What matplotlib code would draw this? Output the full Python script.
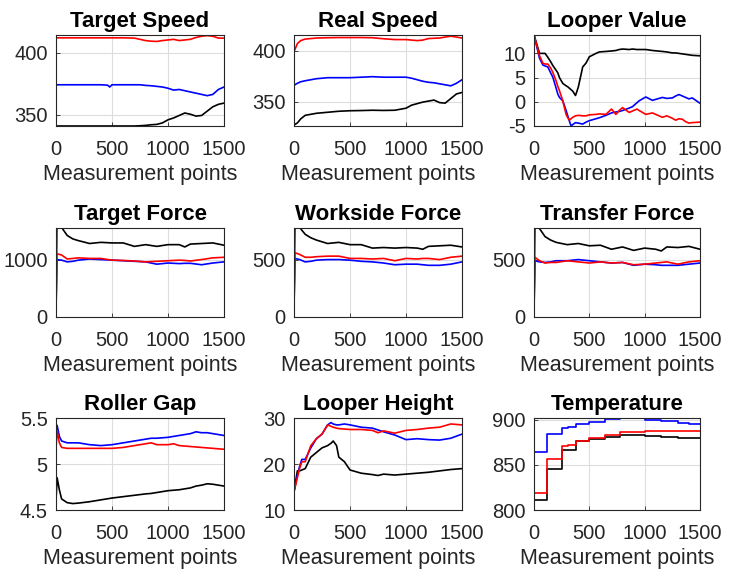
import matplotlib
matplotlib.use('Agg')
import matplotlib.pyplot as plt
from matplotlib.ticker import FormatStrFormatter

plt.rcParams['font.family'] = ['Liberation Sans', 'DejaVu Sans']

# ---- Target Speed
ts_x = [0, 100, 200, 300, 400, 460, 480, 500, 600, 700, 750, 800, 850, 900, 950,
        1000, 1050, 1100, 1150, 1200, 1250, 1300, 1350, 1400, 1450, 1500]
ts_red = [412.2, 412.2, 412.2, 412.2, 412.2, 412.2, 412.2, 412.2, 412.2, 412.0, 411.0, 410.0, 409.5,
          409.3, 410.0, 410.5, 411.0, 410.0, 410.5, 411.0, 412.5, 413.5, 414.0, 413.5, 412.0, 412.0]
ts_blue = [374.3, 374.3, 374.3, 374.3, 374.3, 374.0, 372.5, 374.3, 374.3, 374.3, 374.3, 373.8, 373.5,
           373.0, 372.5, 371.5, 370.0, 370.5, 369.5, 368.5, 367.5, 366.5, 365.5, 366.5, 370.5, 372.5]
ts_black = [341.0, 341.0, 341.0, 341.0, 341.0, 341.0, 341.0, 341.0, 341.0, 341.0, 341.2, 341.5, 342.0,
            342.3, 343.5, 346.0, 347.5, 349.5, 351.5, 350.5, 349.0, 349.5, 353.0, 356.5, 358.5, 359.5]

# ---- Real Speed
rs_x = [0, 15, 30, 60, 100, 200, 300, 400, 500, 600, 700, 800, 900, 1000, 1050, 1100,
        1150, 1200, 1250, 1300, 1350, 1400, 1450, 1500]
rs_red = [399, 403, 407, 410, 411.5, 412.5, 412.8, 413, 413, 413, 412.8, 411.8, 411, 411, 410.5, 410,
          410.5, 412, 412.3, 412.5, 413.5, 414.3, 413.5, 412.5]
rs_blue = [366, 367, 368, 369.5, 370.5, 372.5, 373.5, 373.5, 373.5, 374, 374.5, 374, 374, 374, 373, 371.5,
           370, 369, 368.5, 367.5, 366.5, 365.5, 368, 371.5]
rs_black = [327, 328, 329, 333, 336.5, 338.5, 339.5, 340.5, 341, 341.2, 341.5, 341.3, 341.5, 343.5, 346.5, 348,
            349.5, 350.5, 351.5, 349, 348.5, 353, 357.5, 359]

# ---- Looper Value
lv_x = [0, 50, 80, 100, 125, 150, 170, 200, 215, 230, 260, 290, 305, 320, 335, 350, 375, 400, 440, 470,
        500, 560, 590, 650, 700, 740, 770, 800, 860, 890, 930, 950, 1010, 1070, 1160, 1200, 1250, 1280,
        1310, 1340, 1370, 1400, 1430, 1500]
lv_red = [13.8, 9.5, 8, 7.8, 7.8, 7, 6.1, 4.3, 3.2, 2.3, 0.2, -2.6, -3.3, -3.8, -3.5, -3.2, -2.9, -2.8,
          -2.9, -2.9, -2.7, -2.6, -2.5, -2.6, -1.5, -2.6, -1.8, -1.2, -2.2, -1.9, -1.5, -1.8, -2.6, -2.3,
          -3.2, -2.9, -3.4, -3.8, -3.5, -3.6, -4.1, -4.4, -4.3, -4.2]
lv_blue = [13.8, 9, 7.6, 7.4, 7.2, 6, 5.1, 2.8, 1.6, 0.9, 0.2, -1.8, -2.9, -4, -5, -4.7, -4.3, -4.4,
           -4.6, -4.2, -3.9, -3.5, -3.3, -2.8, -2.3, -2.1, -2, -1.8, -1.3, -1, -0.2, 0.2, 1, 0.3, 0.9,
           0.7, 0.8, 1.2, 1.5, 1.2, 0.9, 0.6, 0.8, -0.3]
lv_black = [13.8, 10, 10, 10, 9.2, 8.3, 7.5, 6.5, 6, 5, 3.8, 3.3, 3.1, 2.8, 2.5, 2.2, 1.3, 3, 7.2, 8,
            9.3, 10, 10.3, 10.4, 10.5, 10.6, 10.8, 10.9, 10.8, 10.9, 10.8, 10.8, 10.8, 10.6, 10.4, 10.3,
            10.1, 10.1, 10, 9.9, 9.8, 9.7, 9.6, 9.5]

# ---- forces (same sampling)
f_x = [0, 8, 50, 100, 150, 200, 300, 400, 500, 600, 700, 800, 900, 1000, 1100, 1150, 1200, 1300, 1400, 1500]
tf_red = [100, 1100, 1080, 1010, 1020, 1030, 1020, 1020, 990, 985, 975, 960, 970, 980, 990, 985, 975,
          1000, 1030, 1040]
tf_blue = [100, 1000, 990, 960, 970, 990, 1010, 1000, 990, 980, 970, 960, 920, 940, 930, 935, 935,
           910, 940, 960]
tf_black = [100, 1600, 1560, 1420, 1360, 1330, 1280, 1300, 1290, 1290, 1230, 1260, 1230, 1260, 1260,
            1220, 1270, 1280, 1290, 1250]

wf_red = [80, 560, 545, 520, 520, 525, 530, 530, 510, 510, 505, 510, 490, 510, 505, 510, 510, 500, 520, 530]
wf_blue = [75, 510, 500, 480, 485, 495, 500, 500, 495, 485, 480, 470, 455, 460, 460, 455, 450, 450, 460, 480]
wf_black = [80, 790, 780, 720, 690, 670, 640, 650, 630, 630, 600, 605, 600, 605, 600, 590, 615, 620, 625, 610]

trf_red = [60, 520, 490, 470, 475, 475, 490, 480, 470, 480, 470, 475, 455, 460, 470, 475, 480, 460, 480, 490]
trf_blue = [50, 490, 480, 475, 480, 490, 490, 500, 490, 480, 470, 475, 450, 460, 455, 450, 450, 450, 460, 470]
trf_black = [60, 790, 770, 700, 670, 650, 630, 640, 620, 625, 590, 610, 580, 600, 590, 575, 610, 605, 615, 590]

# ---- Roller Gap
rg_x = [0, 10, 30, 50, 100, 150, 200, 300, 400, 500, 600, 700, 800, 850, 900, 1000, 1050, 1100,
        1200, 1250, 1300, 1350, 1400, 1450, 1500]
rg_red = [5.17, 5.36, 5.23, 5.18, 5.17, 5.17, 5.17, 5.17, 5.17, 5.17, 5.18, 5.2, 5.22, 5.23, 5.21, 5.21,
          5.22, 5.2, 5.19, 5.185, 5.18, 5.175, 5.17, 5.165, 5.16]
rg_blue = [5.35, 5.42, 5.3, 5.25, 5.23, 5.23, 5.23, 5.21, 5.2, 5.21, 5.23, 5.25, 5.27, 5.28, 5.28, 5.29,
           5.3, 5.31, 5.33, 5.35, 5.34, 5.34, 5.33, 5.32, 5.31]
rg_black = [4.6, 4.85, 4.72, 4.62, 4.58, 4.57, 4.575, 4.59, 4.61, 4.63, 4.645, 4.66, 4.675, 4.68, 4.69,
            4.71, 4.715, 4.72, 4.74, 4.76, 4.77, 4.785, 4.78, 4.77, 4.76]

# ---- Looper Height
lh_x = [0, 30, 50, 70, 100, 150, 200, 250, 300, 330, 350, 380, 400, 450, 500, 600, 700, 750, 800,
        900, 1000, 1100, 1200, 1300, 1400, 1500]
lh_red = [14, 17, 19, 20.5, 20.5, 24, 25.5, 26.5, 28.5, 28.2, 28, 27.8, 27.7, 27.6, 27.5, 27.5, 27.3,
          26.8, 27.2, 26.7, 27.3, 27.5, 27.8, 28, 28.7, 28.5]
lh_blue = [14, 17.5, 19.5, 21, 21, 23.5, 25.5, 26.5, 28.5, 29, 28.7, 28.5, 28.5, 28.7, 28.5, 28, 27.8,
           27.4, 27, 26.3, 25.3, 25.5, 25.3, 25.2, 25.6, 26.5]
lh_black = [14, 18.5, 18.5, 18.7, 19, 21.5, 22.5, 23.5, 24, 24.5, 25, 24, 21.5, 20.5, 18.7, 18, 17.7,
            17.5, 17.8, 17.6, 17.8, 18, 18.2, 18.5, 18.8, 19]

# ---- Temperature (stepwise)
tp_x = [0, 120, 250, 310, 380, 500, 640, 780, 1000, 1150, 1300, 1400, 1500]
tp_red = [819, 856, 870.5, 872, 876.5, 880, 883, 886, 887.4, 887.4, 887.4, 887.4, 887.4]
tp_blue = [864, 884, 891, 892.5, 895, 898, 900.5, 901.5, 900, 898.5, 896.5, 895.5, 895.5]
tp_black = [811, 845, 866, 866, 877, 878.8, 880.7, 883.3, 881.8, 881.0, 879.8, 879.8, 879.8]

titles = ['Target Speed', 'Real Speed', 'Looper Value',
          'Target Force', 'Workside Force', 'Transfer Force',
          'Roller Gap', 'Looper Height', 'Temperature']
xticks = [0, 500, 1000, 1500]

fig = plt.figure(figsize=(7.29, 5.77), dpi=100)
W, H = 729.0, 577.0
col_left = [56, 294, 534]
col_w = [168, 168, 166]
row_top = [35, 228, 418]
row_h = [91, 89, 92]

panels = [
    (ts_x, ts_red, ts_blue, ts_black, (341, 414.5), [350, 400], None),
    (rs_x, rs_red, rs_blue, rs_black, (326, 415.5), [350, 400], None),
    (lv_x, lv_red, lv_blue, lv_black, (-5, 13.8), [-5, 0, 5, 10], None),
    (f_x, tf_red, tf_blue, tf_black, (0, 1550), [0, 1000], None),
    (f_x, wf_red, wf_blue, wf_black, (0, 775), [0, 500], None),
    (f_x, trf_red, trf_blue, trf_black, (0, 775), [0, 500], None),
    (rg_x, rg_red, rg_blue, rg_black, (4.5, 5.5), [4.5, 5, 5.5], None),
    (lh_x, lh_red, lh_blue, lh_black, (10, 30), [10, 20, 30], None),
    (tp_x, tp_red, tp_blue, tp_black, (800, 902), [800, 850, 900], 'steps-post'),
]

for i, (x, red, blue, black, ylim, yt, ds) in enumerate(panels):
    r, c = divmod(i, 3)
    ax = fig.add_axes([col_left[c] / W, 1 - (row_top[r] + row_h[r]) / H,
                       col_w[c] / W, row_h[r] / H])
    kw = dict(lw=1.2)
    if ds:
        kw['drawstyle'] = ds
    ax.plot(x, black, color='k', **kw)
    ax.plot(x, blue, color='#0000ff', **kw)
    ax.plot(x, red, color='#ff0000', **kw)
    ax.set_xlim(0, 1500)
    ax.set_ylim(*ylim)
    ax.set_xticks(xticks)
    ax.set_yticks(yt)
    ax.yaxis.set_major_formatter(FormatStrFormatter('%g'))
    ax.grid(True, color='#dddddd', lw=0.8)
    ax.set_axisbelow(True)
    for s in ax.spines.values():
        s.set_color('#262626')
        s.set_linewidth(0.8)
    ax.tick_params(direction='in', length=3, width=0.6, colors='#262626', labelsize=14.5)
    ax.tick_params(axis='x', pad=10)
    ax.tick_params(axis='y', pad=6)
    ax.set_xlabel('Measurement points', fontsize=15.5, color='#262626', labelpad=4)
    ax.set_title(titles[i], fontsize=16, fontweight='bold', pad=6)

fig.savefig('out.png', dpi=100)
